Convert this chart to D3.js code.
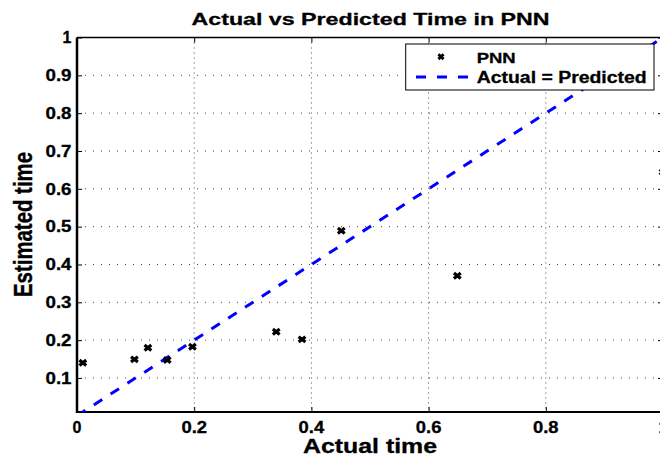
<!DOCTYPE html>
<html><head><meta charset="utf-8">
<script src="https://cdn.jsdelivr.net/npm/d3@7"></script>
<style>body{margin:0;background:#fff}svg{display:block}text{font-family:"Liberation Sans",Arial,sans-serif;font-weight:bold;fill:#000;stroke:#000;stroke-width:0.3px}</style>
</head><body>
<svg id="c" width="660" height="457"></svg>
<script>
const actualTime = [0.01, 0.098, 0.121, 0.154, 0.197, 0.340, 0.384, 0.451, 0.649, 1.0];
const estimatedTime = [0.14, 0.149, 0.180, 0.1475, 0.1825, 0.222, 0.202, 0.489, 0.370, 0.644];
const xTicks = [0, 0.2, 0.4, 0.6, 0.8, 1];
const yTicks = [0.1, 0.2, 0.3, 0.4, 0.5, 0.6, 0.7, 0.8, 0.9, 1];
const refLine = [0, 1];
const titleText = "Actual vs Predicted Time in PNN";
const xLabel = "Actual time";
const yLabel = "Estimated time";
const legendLabels = ["PNN", "Actual = Predicted"];

const svg = d3.select("#c");
const L = 77, R = 663, T = 37.5, B = 412;
const x = d3.scaleLinear().domain([0, 1]).range([L, R]);
const y = d3.scaleLinear().domain([0.01, 1]).range([B, T]);

svg.append("defs").append("clipPath").attr("id", "clip")
  .append("rect").attr("x", L).attr("y", T).attr("width", R - L).attr("height", B - T);

// grid
const grid = svg.append("g");
grid.selectAll(".gx").data(xTicks.filter(d => d > 0 && d < 1)).join("line")
  .attr("x1", d => x(d)).attr("x2", d => x(d)).attr("y1", T).attr("y2", B)
  .attr("stroke", "#444").attr("stroke-width", 1).attr("stroke-dasharray", "1,4");
grid.selectAll(".gy").data(yTicks.filter(d => d < 1)).join("line")
  .attr("y1", d => y(d)).attr("y2", d => y(d)).attr("x1", L).attr("x2", R)
  .attr("stroke", "#444").attr("stroke-width", 1).attr("stroke-dasharray", "1,7");

// inward ticks via axes
const fmt = d => d === 0 ? "0" : d === 1 ? "1" : d3.format(".1f")(d);
const xAx = svg.append("g").attr("transform", `translate(0,${B})`)
  .call(d3.axisTop(x).tickValues(xTicks).tickSize(5).tickFormat(""));
const xAxT = svg.append("g").attr("transform", `translate(0,${T})`)
  .call(d3.axisBottom(x).tickValues(xTicks).tickSize(5).tickFormat(""));
const yAx = svg.append("g").attr("transform", `translate(${L},0)`)
  .call(d3.axisRight(y).tickValues(yTicks).tickSize(5).tickFormat(""));
const yAxR = svg.append("g").attr("transform", `translate(${R},0)`)
  .call(d3.axisLeft(y).tickValues(yTicks).tickSize(5).tickFormat(""));
[xAx, xAxT, yAx, yAxR].forEach(g => { g.select(".domain").remove(); g.selectAll("line").attr("stroke", "#000"); });

// frame
svg.append("line").attr("x1", L).attr("x2", R).attr("y1", T).attr("y2", T).attr("stroke", "#000").attr("stroke-width", 1.5);
svg.append("line").attr("x1", L).attr("x2", R).attr("y1", B).attr("y2", B).attr("stroke", "#000").attr("stroke-width", 2);
svg.append("line").attr("x1", L).attr("x2", L).attr("y1", T).attr("y2", B + 1).attr("stroke", "#000").attr("stroke-width", 2.5);

// tick labels
svg.append("g").selectAll("text").data(xTicks).join("text")
  .attr("x", d => x(d)).attr("y", 432.7).attr("text-anchor", "middle").attr("font-size", 16)
  .attr("textLength", d => fmt(d).length > 1 ? 25.6 : null).attr("lengthAdjust", "spacingAndGlyphs")
  .text(fmt);
svg.append("g").selectAll("text").data(yTicks).join("text")
  .attr("x", 71.5).attr("y", d => y(d) + 5.8).attr("text-anchor", "end").attr("font-size", 16)
  .attr("textLength", d => fmt(d).length > 1 ? 26 : null).attr("lengthAdjust", "spacingAndGlyphs")
  .text(fmt);

// reference line
const plot = svg.append("g").attr("clip-path", "url(#clip)");
plot.append("line").attr("x1", x(refLine[0])).attr("y1", y(refLine[0])).attr("x2", x(refLine[1])).attr("y2", y(refLine[1]))
  .attr("stroke", "#0000ff").attr("stroke-width", 3).attr("stroke-dasharray", "10,10");

// markers
const cross = (hw, hh) => `M${-hw},${-hh}L${hw},${hh}M${-hw},${hh}L${hw},${-hh}`;
svg.append("g").selectAll("path").data(actualTime.map((d, i) => [d, estimatedTime[i]])).join("path")
  .attr("transform", d => `translate(${x(d[0])},${y(d[1])})`)
  .attr("d", cross(3.4, 2.7)).attr("stroke", "#000").attr("stroke-width", 3.2).attr("fill", "none");

// legend
const lg = svg.append("g");
lg.append("rect").attr("x", 405.7).attr("y", 44).attr("width", 248.3).attr("height", 46)
  .attr("fill", "#fff").attr("stroke", "#000").attr("stroke-width", 1);
lg.append("path").attr("transform", "translate(441,56.7)").attr("d", cross(2.6, 2.4))
  .attr("stroke", "#000").attr("stroke-width", 2.8).attr("fill", "none");
lg.append("line").attr("x1", 416).attr("x2", 470).attr("y1", 77).attr("y2", 77)
  .attr("stroke", "#0000ff").attr("stroke-width", 3).attr("stroke-dasharray", "10,11");
lg.append("text").attr("x", 476.7).attr("y", 62.7).attr("font-size", 15)
  .attr("textLength", 39).attr("lengthAdjust", "spacingAndGlyphs").text(legendLabels[0]);
lg.append("text").attr("x", 476.7).attr("y", 83.3).attr("font-size", 16)
  .attr("textLength", 170).attr("lengthAdjust", "spacingAndGlyphs").text(legendLabels[1]);

// title and labels
svg.append("text").attr("x", 370.5).attr("y", 25).attr("text-anchor", "middle").attr("font-size", 17)
  .attr("textLength", 358).attr("lengthAdjust", "spacingAndGlyphs").text(titleText);
svg.append("text").attr("x", 370).attr("y", 453).attr("text-anchor", "middle").attr("font-size", 20)
  .attr("textLength", 134).attr("lengthAdjust", "spacingAndGlyphs").text(xLabel);
svg.append("text").attr("transform", "translate(31.7,224.5) scale(1.3,1) rotate(-90)")
  .attr("text-anchor", "middle").attr("font-size", 19.5)
  .attr("textLength", 145).attr("lengthAdjust", "spacingAndGlyphs").text(yLabel);
</script>
</body></html>
